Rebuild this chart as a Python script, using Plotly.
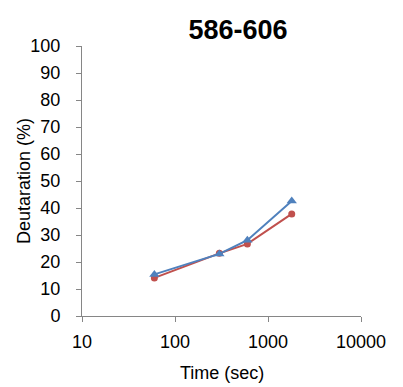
import plotly.graph_objects as go

time_sec = [60, 300, 600, 1800]
series_red = [14.1, 23.2, 26.7, 37.8]
series_blue = [15.4, 23.0, 28.1, 42.6]
x_ticks = [10, 100, 1000, 10000]
y_ticks = [0, 10, 20, 30, 40, 50, 60, 70, 80, 90, 100]

FONT = "Liberation Sans, Arial, sans-serif"
W, H = 403, 387
L, R, T, B = 82, 42, 46, 71

fig = go.Figure()
fig.add_trace(go.Scatter(
    x=time_sec, y=series_red, mode="lines+markers",
    line=dict(color="#C0504D", width=2),
    marker=dict(symbol="circle", size=7, color="#C0504D"),
    showlegend=False))
fig.add_trace(go.Scatter(
    x=time_sec, y=series_blue, mode="lines+markers",
    line=dict(color="#4F81BD", width=2),
    marker=dict(symbol="triangle-up", size=9, color="#4F81BD"),
    showlegend=False))

pw, ph = W - L - R, H - T - B

fig.update_layout(
    width=W, height=H,
    margin=dict(l=L, r=R, t=T, b=B),
    paper_bgcolor="white", plot_bgcolor="white",
    font=dict(family=FONT, size=18, color="black"),
    title=dict(text="<b>586-606</b>", x=238/W, xanchor="center",
               y=1 - 30/H, yanchor="middle",
               font=dict(family=FONT, size=27, color="black")),
    xaxis=dict(type="log", range=[1, 4], tickvals=x_ticks,
               ticktext=[str(v) for v in x_ticks],
               showgrid=False, zeroline=False, showline=True,
               linecolor="#868686", linewidth=1,
               ticks="outside", ticklen=5, tickcolor="#868686",
               ticklabelstandoff=4, automargin=False),
    yaxis=dict(range=[0, 100], tickvals=y_ticks,
               showgrid=False, zeroline=False, showline=True,
               linecolor="#868686", linewidth=1,
               ticks="outside", ticklen=5, tickcolor="#868686",
               ticklabelstandoff=12, automargin=False),
    annotations=[
        dict(text="Time (sec)", xref="paper", yref="paper",
             x=(222 - L) / pw, y=-(373 - (H - B)) / ph,
             xanchor="center", yanchor="middle", showarrow=False,
             font=dict(size=18)),
        dict(text="Deutaration (%)", xref="paper", yref="paper",
             x=-(L - 24) / pw, y=(H - B - 181) / ph, textangle=-90,
             xanchor="center", yanchor="middle", showarrow=False,
             font=dict(size=18)),
    ],
)

fig.write_html("out.html")
